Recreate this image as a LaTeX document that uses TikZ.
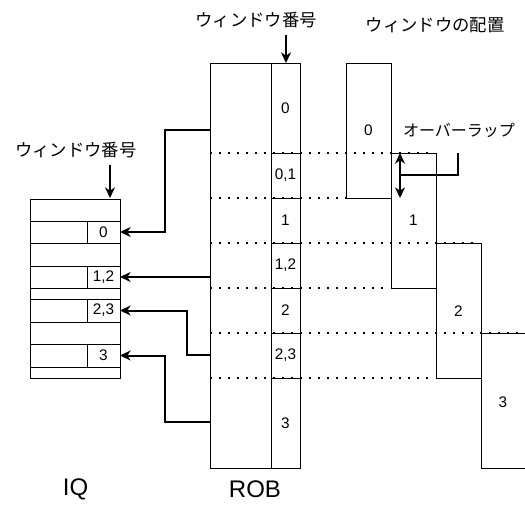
\documentclass[tikz,border=0pt]{standalone}
\usepackage{fontspec}
\setmainfont{Liberation Sans}
\newfontfamily\jp{Noto Sans CJK JP}
\usetikzlibrary{arrows.meta}
\tikzset{
  thin line/.style={line width=0.75pt},
  dotline/.style={line width=1.5pt, dash pattern=on 1.5pt off 5.25pt},
  conn/.style={line width=1.5pt, -{Stealth[length=8pt,width=7.5pt,inset=2.5pt]}},
  dconn/.style={line width=1.5pt, {Stealth[length=8pt,width=7.5pt,inset=2.5pt]}-{Stealth[length=8pt,width=7.5pt,inset=2.5pt]}},
  plain/.style={line width=1.5pt},
  num/.style={inner sep=0pt, font=\fontsize{11.5}{13}\selectfont},
  jlabel/.style={inner sep=0pt, font=\jp\fontsize{13}{15}\selectfont},
  big/.style={inner sep=0pt, font=\fontsize{18}{20}\selectfont}
}
\begin{document}
\begin{tikzpicture}[x=0.75pt,y=-0.75pt]
\useasboundingbox (0,0) rectangle (525,504);

% dotted guide lines
\draw[dotline] (210,153) -- (430,153);
\draw[dotline] (210,198) -- (346,198);
\draw[dotline] (210,243) -- (477,243);
\draw[dotline] (210,288) -- (386,288);
\draw[dotline] (210,333) -- (525,333);
\draw[dotline] (210,378) -- (431,378);

% ROB
\draw[thin line] (210,63) rectangle (271,468);
\draw[thin line] (271,63) rectangle (300,468);
\foreach \yy in {153,198,243,288,333,378} \draw[thin line] (271,\yy) -- (300,\yy);
\node[num] (r0) at (285.5,108) {0};
\node[num] (r01) at (285.5,175.5) {0,1};
\node[num] (r1) at (285.5,220.5) {1};
\node[num] (r12) at (285.5,265.5) {1,2};
\node[num] (r2) at (285.5,310.5) {2};
\node[num] (r23) at (285.5,355.5) {2,3};
\node[num] (r3) at (285.5,423) {3};

% IQ
\draw[thin line] (30,199) rectangle (120,378);
\foreach \yy in {221,243,266,288,299,322,344,367} \draw[thin line] (30,\yy) -- (120,\yy);
\foreach \ya/\yb in {221/243,266/288,299/322,344/367} \draw[thin line] (87,\ya) -- (87,\yb);
\node[num] (q0) at (103.5,232) {0};
\node[num] (q12) at (103.5,277) {1,2};
\node[num] (q23) at (103.5,310.5) {2,3};
\node[num] (q3) at (103.5,355.5) {3};

% window placement boxes
\draw[thin line] (346,63) rectangle (391,198);
\draw[thin line] (391,153) rectangle (436,288);
\draw[thin line] (436,243) rectangle (481,378);
\draw[thin line] (526,333) -- (481,333) -- (481,468) -- (526,468);
\node[num] (w0) at (368.5,130) {0};
\node[num] (w1) at (413.5,220.5) {1};
\node[num] (w2) at (458.5,311) {2};
\node[num] (w3) at (503,402) {3};

% labels
\node[jlabel] (robhead) at (256,20) {ウィンドウ番号};
\node[jlabel] (iqhead) at (76,150) {ウィンドウ番号};
\node[jlabel] (winhead) at (435,25) {ウィンドウの配置};
\node[jlabel, font=\jp\fontsize{12}{14}\selectfont] (ovl) at (459,130) {オーバーラップ};
\node[big] (iqname) at (75.5,489) {IQ};
\node[big] (robname) at (255,489) {ROB};

% header arrows
\coordinate (robtop) at (286,63);
\coordinate (robarr) at (286,35);
\draw[conn] (robarr) -- (robtop);
\coordinate (iqtop) at (110,198);
\coordinate (iqarr) at (110,165);
\draw[conn] (iqarr) -- (iqtop);

% overlap arrow
\coordinate (ovtop) at (400,153);
\coordinate (ovbot) at (400,198);
\draw[dconn] (ovtop) -- (ovbot);
\coordinate (ovmid) at (400,175);
\coordinate (ovstart) at (457.5,153);
\draw[plain] (ovstart) |- (ovmid);

% ROB -> IQ connectors
\coordinate (ra) at (210,130);
\coordinate (rb) at (210,277);
\coordinate (rc) at (210,355);
\coordinate (rd) at (210,422);
\coordinate (ia) at (120,232);
\coordinate (ib) at (120,277);
\coordinate (ic) at (120,310.5);
\coordinate (id) at (120,355.5);
\draw[conn] (ra) -- (165,130) |- (ia);
\draw[conn] (rb) -- (ib);
\draw[conn] (rc) -- (187,355) |- (ic);
\draw[conn] (rd) -- (165,422) |- (id);
\end{tikzpicture}
\end{document}
